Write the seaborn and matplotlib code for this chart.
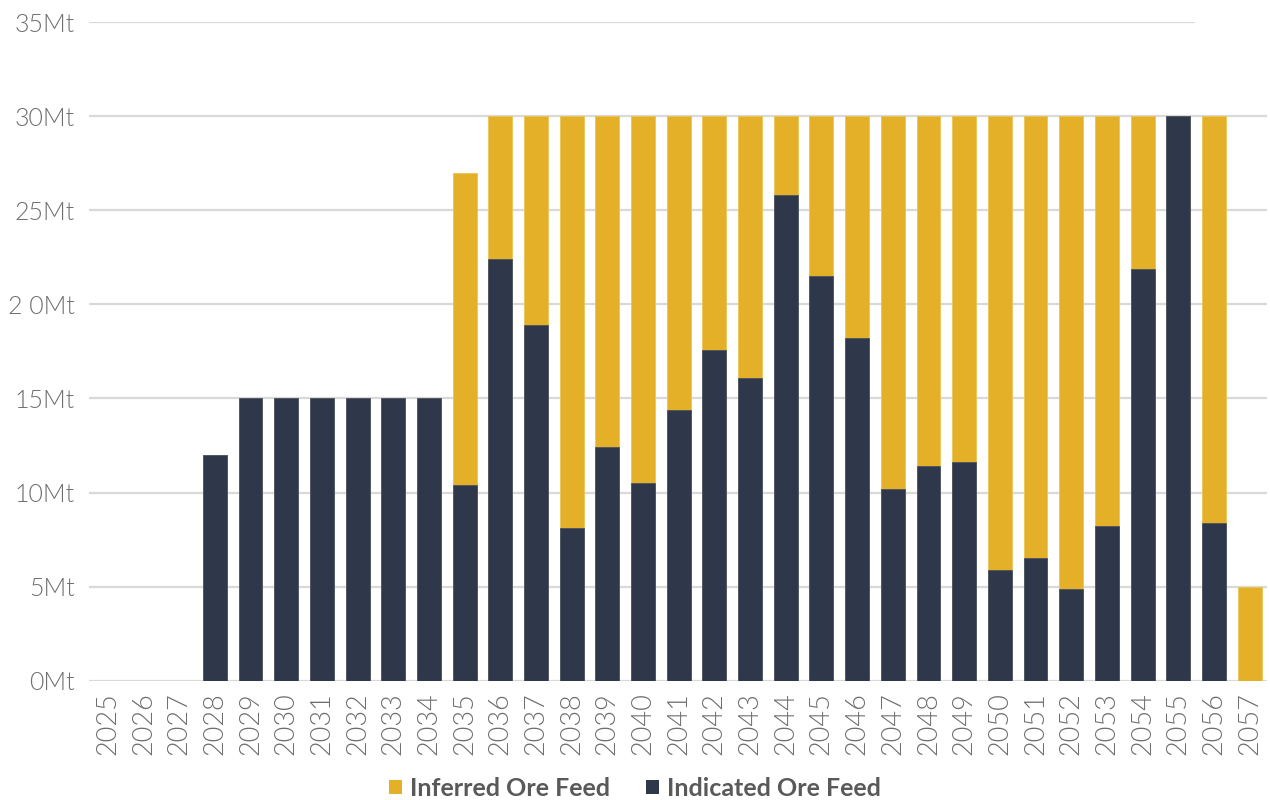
import matplotlib
matplotlib.use("Agg")
import matplotlib.pyplot as plt
from matplotlib.patches import Patch
import seaborn as sns
import pandas as pd

# Annual ore feed (Mt) by resource category
years = [str(y) for y in range(2025, 2058)]
indicated = [0, 0, 0, 12, 15, 15, 15, 15, 15, 15,
             10.4, 22.4, 18.9, 8.1, 12.4, 10.5, 14.4, 17.6, 16.1, 25.8,
             21.5, 18.2, 10.2, 11.4, 11.6, 5.9, 6.5, 4.9, 8.2, 21.9,
             30, 8.4, 0]
inferred = [0, 0, 0, 0, 0, 0, 0, 0, 0, 0,
            16.6, 7.6, 11.1, 21.9, 17.6, 19.5, 15.6, 12.4, 13.9, 4.2,
            8.5, 11.8, 19.8, 18.6, 18.4, 24.1, 23.5, 25.1, 21.8, 8.1,
            0, 21.6, 5]
ytick_values = [0, 5, 10, 15, 20, 25, 30, 35]
ytick_labels = ["0Mt", "5Mt", "10Mt", "15Mt", "2 0Mt", "25Mt", "30Mt", "35Mt"]

navy = "#2f384b"
gold = "#e4b028"
grid_c = "#d9d9d9"
text_c = "#6e6e6e"

df = pd.DataFrame({"year": years, "indicated": indicated, "inferred": inferred})
df["total"] = df["indicated"] + df["inferred"]

sns.set_theme(style="white")
plt.rcParams["font.family"] = ["Lato", "DejaVu Sans"]

fig = plt.figure(figsize=(12.7, 8), dpi=100)
ax = fig.add_axes([0.070, 0.149, 0.928, 0.8235])

# stacked bars: total in gold, indicated drawn over it from the baseline
sns.barplot(data=df, x="year", y="total", color=gold, width=0.67,
            saturation=1, ax=ax, zorder=3, edgecolor="#ecc454", linewidth=0.6)
sns.barplot(data=df, x="year", y="indicated", color=navy, width=0.67,
            saturation=1, ax=ax, zorder=4, edgecolor="#4a5366", linewidth=0.6)

ax.set_xlim(-0.53, 32.5)
ax.set_ylim(0, 35)
for v in ytick_values:
    ax.axhline(v, xmin=0, xmax=(0.938 if v == 35 else 1.0), color=grid_c,
               linewidth=1.6, zorder=1)

ax.set_yticks(ytick_values)
ax.set_yticklabels(ytick_labels)
ax.tick_params(axis="y", length=0, pad=10, labelsize=18, labelcolor=text_c)
ax.tick_params(axis="x", length=0, pad=8, labelsize=19.5, labelcolor=text_c,
               rotation=90)
for lab in ax.get_xticklabels() + ax.get_yticklabels():
    lab.set_fontweight(300)
ax.set_xlabel("")
ax.set_ylabel("")
for s in ax.spines.values():
    s.set_visible(False)

handles = [Patch(facecolor=gold, edgecolor="none", label="Inferred Ore Feed"),
           Patch(facecolor=navy, edgecolor="none", label="Indicated Ore Feed")]
leg = fig.legend(handles=handles, loc="center", bbox_to_anchor=(0.5, 0.015),
                 ncol=2, frameon=False, handlelength=0.5, handleheight=0.5,
                 handletextpad=0.32, columnspacing=1.45,
                 prop={"weight": "bold", "size": 18})
for t in leg.get_texts():
    t.set_color("#595959")

fig.savefig("out.png", dpi=100)
